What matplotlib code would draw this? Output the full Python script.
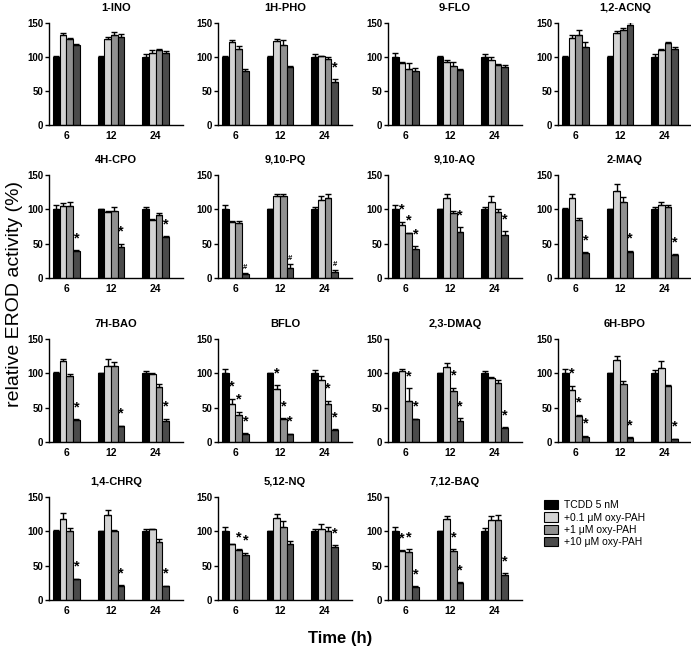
import matplotlib
matplotlib.use("Agg")
import matplotlib.pyplot as plt
from matplotlib.patches import Patch
import numpy as np

plt.rcParams['font.family'] = ['Liberation Sans', 'DejaVu Sans']

titles = ["1-INO", "1H-PHO", "9-FLO", "1,2-ACNQ",
          "4H-CPO", "9,10-PQ", "9,10-AQ", "2-MAQ",
          "7H-BAO", "BFLO", "2,3-DMAQ", "6H-BPO",
          "1,4-CHRQ", "5,12-NQ", "7,12-BAQ"]
times = ["6", "12", "24"]
series_names = ["TCDD 5 nM", "+0.1 \u03bcM oxy-PAH", "+1 \u03bcM oxy-PAH", "+10 \u03bcM oxy-PAH"]
series_colors = ["#000000", "#d4d4d4", "#909090", "#4b4b4b"]

# means per compound, values at 6, 12, 24 h
tcdd_mean = [[100, 100, 100]] * 15
tcdd_err = [[2, 1, 5], [2, 1, 4], [6, 1, 5], [1, 1, 5],
            [6, 1, 4], [6, 1, 4], [6, 1, 4], [2, 1, 4],
            [2, 1, 4], [6, 1, 5], [2, 1, 4], [6, 1, 5],
            [2, 1, 4], [6, 1, 4], [6, 1, 5]]

low_mean = [[132, 127, 106], [122, 123, 101], [91, 93, 96], [128, 136, 110],
            [105, 96, 84], [82, 119, 114], [77, 116, 111], [116, 127, 106],
            [118, 111, 99], [55, 77, 91], [103, 109, 93], [76, 120, 108],
            [118, 124, 103], [81, 119, 103], [72, 118, 116]]
low_err = [[4, 3, 4], [3, 3, 1], [1, 2, 4], [5, 2, 2],
           [4, 2, 2], [1, 4, 5], [5, 7, 8], [7, 10, 4],
           [3, 10, 1], [8, 6, 5], [4, 6, 2], [6, 5, 10],
           [8, 7, 1], [1, 6, 7], [1, 5, 7]]
low_sig = ["---", "---", "---", "---",
           "---", "---", "*--", "---",
           "---", "**-", "---", "*--",
           "---", "---", "*--"]

mid_mean = [[127, 133, 110], [112, 117, 97], [83, 87, 88], [132, 140, 120],
            [105, 98, 92], [80, 120, 116], [65, 94, 96], [84, 111, 104],
            [96, 111, 80], [39, 34, 56], [60, 74, 86], [38, 85, 82],
            [100, 101, 84], [73, 107, 101], [70, 72, 117]]
mid_err = [[1, 4, 2], [4, 8, 3], [8, 6, 2], [7, 3, 2],
           [5, 5, 3], [3, 2, 6], [1, 4, 5], [4, 7, 2],
           [3, 5, 4], [5, 1, 4], [18, 5, 4], [2, 4, 1],
           [5, 1, 5], [1, 8, 6], [4, 2, 7]]
mid_sig = ["---", "---", "---", "---",
           "---", "---", "*--", "---",
           "---", "***", "**-", "*--",
           "---", "*--", "**-"]

high_mean = [[117, 130, 106], [80, 85, 63], [80, 81, 85], [115, 147, 112],
             [40, 45, 59], [6, 14, 9], [42, 67, 63], [37, 38, 33],
             [32, 23, 31], [12, 11, 18], [33, 31, 21], [8, 6, 4],
             [30, 21, 20], [65, 81, 77], [19, 25, 37]]
high_err = [[2, 4, 3], [2, 2, 4], [4, 2, 3], [7, 5, 2],
            [1, 5, 2], [1, 6, 2], [4, 7, 5], [1, 2, 2],
            [1, 1, 3], [1, 1, 1], [1, 4, 1], [1, 1, 1],
            [1, 1, 1], [4, 5, 3], [1, 1, 2]]
high_sig = ["---", "--*", "---", "---",
            "***", "###", "***", "***",
            "***", "***", "***", "***",
            "***", "*-*", "***"]

W, H = 691, 649
fig = plt.figure(figsize=(W / 100, H / 100), dpi=100)

col_left = [49, 218, 388, 558]
row_span = [(23, 125), (175, 278), (339, 442), (497, 600)]
ax_w = 134

means = [tcdd_mean, low_mean, mid_mean, high_mean]
errs = [tcdd_err, low_err, mid_err, high_err]
sigs = [None, low_sig, mid_sig, high_sig]
bw = 0.15
x = np.arange(3)

for i, name in enumerate(titles):
    r, c = divmod(i, 4)
    top, bot = row_span[r]
    ax = fig.add_axes([col_left[c] / W, 1 - bot / H, ax_w / W, (bot - top) / H])
    for s in range(4):
        xs = x + (s - 1.5) * bw
        m = np.array(means[s][i])
        e = np.array(errs[s][i])
        ax.bar(xs, m, bw, color=series_colors[s], edgecolor='black', linewidth=0.8, zorder=2)
        ax.errorbar(xs, m, yerr=[np.zeros(3), e], fmt='none', ecolor='black',
                    elinewidth=1, capsize=2, capthick=1, zorder=3)
        if sigs[s] is not None:
            for k, ch in enumerate(sigs[s][i]):
                if ch == '-':
                    continue
                fs = 10.5 if ch == '*' else 5.5
                dy = 3.5 if ch == '*' else 1.5
                ax.annotate(ch, (xs[k], m[k] + e[k]), xytext=(0, dy),
                            textcoords='offset points', ha='center', va='bottom',
                            fontsize=fs, fontweight='bold', clip_on=False)
    ax.set_xlim(-0.39, 2.61)
    ax.set_ylim(0, 150)
    ax.set_yticks([0, 50, 100, 150])
    ax.set_xticks(x)
    ax.set_xticklabels(times)
    ax.spines['top'].set_visible(False)
    ax.spines['right'].set_visible(False)
    ax.spines['left'].set_linewidth(1)
    ax.spines['bottom'].set_linewidth(1)
    ax.tick_params(axis='y', length=3, width=1, pad=1, labelsize=7)
    ax.tick_params(axis='x', length=0, pad=4, labelsize=7.5)
    for lab in ax.get_xticklabels() + ax.get_yticklabels():
        lab.set_fontweight('bold')
    ax.set_title(name, fontsize=8, fontweight='bold', pad=8.5)

handles = [Patch(facecolor=series_colors[s], edgecolor='black', linewidth=0.8) for s in range(4)]
fig.legend(handles, series_names, loc='upper left', bbox_to_anchor=(540 / W, 1 - 496 / H),
           frameon=False, fontsize=7.5, handlelength=1.3, handleheight=1.0,
           labelspacing=0.2, handletextpad=0.6, borderaxespad=0)

fig.text(15 / W, 1 - 294 / H, "relative EROD activity (%)", rotation=90,
         ha='center', va='center', fontsize=14)
fig.text(340 / W, 1 - 638 / H, "Time (h)", ha='center', va='center',
         fontsize=12, fontweight='bold')

fig.savefig("out.png", dpi=100)
